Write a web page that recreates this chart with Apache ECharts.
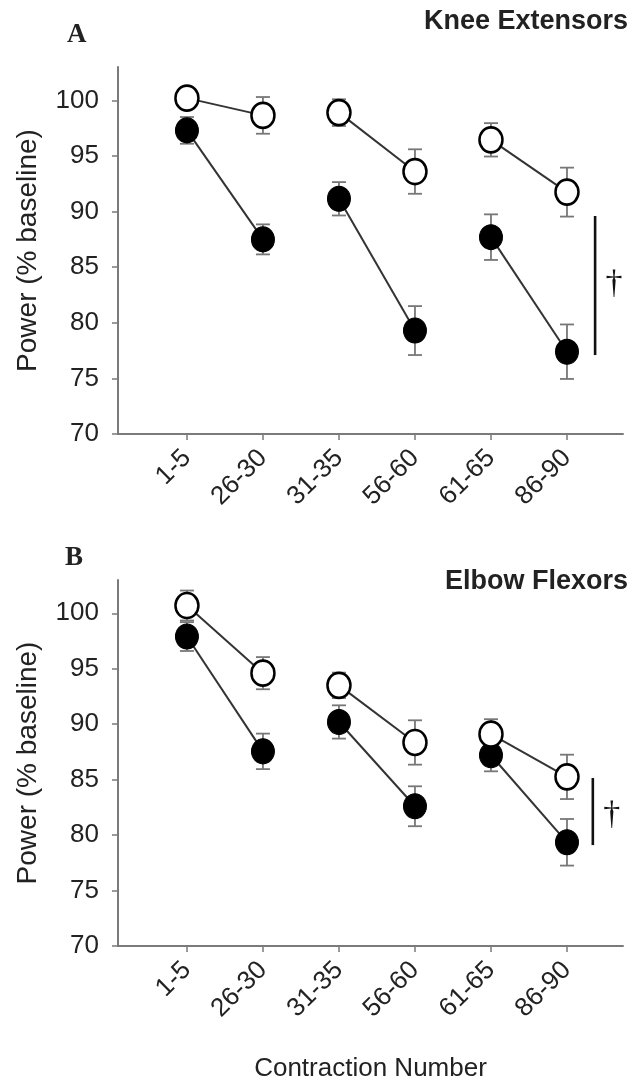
<!DOCTYPE html>
<html>
<head>
<meta charset="utf-8">
<script src="https://cdn.jsdelivr.net/npm/echarts@6/dist/echarts.min.js"></script>
<style>
  html, body { margin: 0; padding: 0; background: #ffffff; }
  #chart { width: 634px; height: 1083px; }
</style>
</head>
<body>
<div id="chart"></div>
<script>
// Contraction blocks on the x axis (index 0..5)
const categories = ['1-5', '26-30', '31-35', '56-60', '61-65', '86-90'];
const yTicks = [70, 75, 80, 85, 90, 95, 100];

// Panel A - knee extensors: mean power (% baseline) and SE
const kneeOpen      = [100.2, 98.65, 98.9, 93.6, 96.45, 91.75];
const kneeOpenErr   = [0.8, 1.65, 1.2, 2.0, 1.5, 2.2];
const kneeFilled    = [97.3, 87.5, 91.15, 79.3, 87.7, 77.4];
const kneeFilledErr = [1.2, 1.35, 1.5, 2.2, 2.05, 2.45];

// Panel B - elbow flexors
const elbowOpen      = [100.7, 94.6, 93.5, 88.35, 89.1, 85.25];
const elbowOpenErr   = [1.35, 1.45, 1.15, 2.0, 1.35, 2.0];
const elbowFilled    = [97.9, 87.55, 90.2, 82.6, 87.2, 79.35];
const elbowFilledErr = [1.3, 1.6, 1.5, 1.8, 1.45, 2.1];

// Significance bracket: [x, top, bottom] and dagger position [x, y]
const kneeSigBar   = [5.37, 89.6, 77.1];
const kneeDagger   = [5.62, 83.5];
const elbowSigBar  = [5.34, 85.15, 79.1];
const elbowDagger  = [5.59, 81.8];

const SANS = '"Liberation Sans", Arial, Helvetica, sans-serif';
const SERIF = '"Liberation Serif", "Times New Roman", serif';
const AXIS_GRAY = '#7a7a7a';
const TEXT = '#222222';

const chart = echarts.init(document.getElementById('chart'), null, { renderer: 'canvas' });

function xAxisFor(gridIndex, withName) {
  const ax = {
    type: 'value',
    gridIndex: gridIndex,
    min: -0.907,
    max: 5.737,
    splitLine: { show: false },
    axisLine: { show: true, onZero: false, lineStyle: { color: AXIS_GRAY, width: 2 } },
    axisTick: { show: true, length: 6, customValues: categories.map((c, i) => i),
                lineStyle: { color: AXIS_GRAY, width: 1.5 } },
    axisLabel: {
      customValues: categories.map((c, i) => i),
      formatter: v => categories[Math.round(v)],
      rotate: 45, margin: 20, fontFamily: SANS, fontSize: 26, color: TEXT
    }
  };
  if (withName) {
    ax.name = 'Contraction Number';
    ax.nameLocation = 'middle';
    ax.nameGap = 110;
    ax.nameTextStyle = { fontFamily: SANS, fontSize: 26, color: TEXT };
  }
  return ax;
}

function yAxisFor(gridIndex) {
  return {
    type: 'value',
    gridIndex: gridIndex,
    min: 70,
    max: 103,
    splitLine: { show: false },
    axisLine: { show: true, onZero: false, lineStyle: { color: AXIS_GRAY, width: 2 } },
    axisTick: { show: true, length: 6, customValues: yTicks,
                lineStyle: { color: AXIS_GRAY, width: 1.5 } },
    axisLabel: { customValues: yTicks, margin: 19, fontFamily: SANS, fontSize: 26, color: TEXT },
    name: 'Power (% baseline)',
    nameLocation: 'middle',
    nameGap: 76,
    nameTextStyle: { fontFamily: SANS, fontSize: 28, color: TEXT }
  };
}

// Line segments joining each pair of blocks (1-5 -> 26-30, etc.)
function pairSegments(vals) {
  const out = [];
  for (let i = 0; i < vals.length; i += 2) out.push([i, vals[i], i + 1, vals[i + 1]]);
  return out;
}

function connectorSeries(axisIdx, vals) {
  return {
    type: 'custom',
    xAxisIndex: axisIdx, yAxisIndex: axisIdx,
    z: 1,
    silent: true,
    encode: { x: [0, 2], y: [1, 3] },
    data: pairSegments(vals),
    renderItem: (params, api) => {
      const a = api.coord([api.value(0), api.value(1)]);
      const b = api.coord([api.value(2), api.value(3)]);
      return { type: 'line', shape: { x1: a[0], y1: a[1], x2: b[0], y2: b[1] },
               style: { stroke: '#333333', lineWidth: 2 } };
    }
  };
}

function errorSeries(axisIdx, vals, errs) {
  return {
    type: 'custom',
    xAxisIndex: axisIdx, yAxisIndex: axisIdx,
    z: 2,
    silent: true,
    encode: { x: 0, y: 1 },
    data: vals.map((v, i) => [i, v, errs[i]]),
    renderItem: (params, api) => {
      const x = api.value(0), v = api.value(1), e = api.value(2);
      const hi = api.coord([x, v + e]);
      const lo = api.coord([x, v - e]);
      const cap = 7;
      const st = { stroke: '#777777', lineWidth: 1.8 };
      return {
        type: 'group',
        children: [
          { type: 'line', shape: { x1: hi[0], y1: hi[1], x2: lo[0], y2: lo[1] }, style: st },
          { type: 'line', shape: { x1: hi[0] - cap, y1: hi[1], x2: hi[0] + cap, y2: hi[1] }, style: st },
          { type: 'line', shape: { x1: lo[0] - cap, y1: lo[1], x2: lo[0] + cap, y2: lo[1] }, style: st }
        ]
      };
    }
  };
}

function markerSeries(axisIdx, vals, filled) {
  return {
    type: 'scatter',
    xAxisIndex: axisIdx, yAxisIndex: axisIdx,
    z: filled ? 3 : 4,
    symbol: 'circle',
    symbolSize: [23, 25],
    itemStyle: filled
      ? { color: '#000000', borderColor: '#000000', borderWidth: 1, opacity: 1 }
      : { color: '#ffffff', borderColor: '#000000', borderWidth: 2.6, opacity: 1 },
    data: vals.map((v, i) => [i, v])
  };
}

function sigSeries(axisIdx, bar, dagger) {
  return {
    type: 'custom',
    xAxisIndex: axisIdx, yAxisIndex: axisIdx,
    z: 5,
    silent: true,
    data: [[bar[0], bar[1], bar[2], dagger[0], dagger[1]]],
    renderItem: (params, api) => {
      const top = api.coord([api.value(0), api.value(1)]);
      const bot = api.coord([api.value(0), api.value(2)]);
      const d = api.coord([api.value(3), api.value(4)]);
      return {
        type: 'group',
        children: [
          { type: 'line', shape: { x1: top[0], y1: top[1], x2: bot[0], y2: bot[1] },
            style: { stroke: '#111111', lineWidth: 2.6 } },
          { type: 'text', x: d[0], y: d[1],
            style: { text: '\u2020', fill: '#111111', font: '34px ' + SERIF,
                     align: 'center', verticalAlign: 'middle' } }
        ]
      };
    }
  };
}

const option = {
  backgroundColor: '#ffffff',
  animation: false,
  grid: [
    { left: 118, top: 67, width: 505, height: 367 },
    { left: 118, top: 580, width: 505, height: 368 }
  ],
  xAxis: [xAxisFor(0, false), xAxisFor(1, true)],
  yAxis: [yAxisFor(0), yAxisFor(1)],
  graphic: [
    { type: 'text', left: 67, top: 22, style: { text: 'A', font: 'bold 27px ' + SERIF, fill: TEXT } },
    { type: 'text', right: 6, top: 8, style: { text: 'Knee Extensors', font: 'bold 27px ' + SANS, fill: TEXT } },
    { type: 'text', left: 65, top: 545, style: { text: 'B', font: 'bold 27px ' + SERIF, fill: TEXT } },
    { type: 'text', right: 6, top: 568, style: { text: 'Elbow Flexors', font: 'bold 27px ' + SANS, fill: TEXT } }
  ],
  series: [
    connectorSeries(0, kneeOpen),
    connectorSeries(0, kneeFilled),
    errorSeries(0, kneeOpen, kneeOpenErr),
    errorSeries(0, kneeFilled, kneeFilledErr),
    markerSeries(0, kneeFilled, true),
    markerSeries(0, kneeOpen, false),
    sigSeries(0, kneeSigBar, kneeDagger),

    connectorSeries(1, elbowOpen),
    connectorSeries(1, elbowFilled),
    errorSeries(1, elbowOpen, elbowOpenErr),
    errorSeries(1, elbowFilled, elbowFilledErr),
    markerSeries(1, elbowFilled, true),
    markerSeries(1, elbowOpen, false),
    sigSeries(1, elbowSigBar, elbowDagger)
  ]
};

chart.setOption(option);
</script>
</body>
</html>
